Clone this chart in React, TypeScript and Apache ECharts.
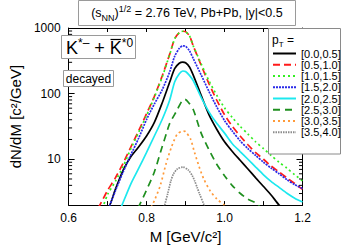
import React, { useEffect, useRef } from 'react';
import * as echarts from 'echarts';

const FONT = '"Liberation Sans", Arial, sans-serif';

const seriesNames = ['[0.0,0.5]', '[0.5,1.0]', '[1.0,1.5]', '[1.5,2.0]', '[2.0,2.5]', '[2.5,3.0]', '[3.0,3.5]', '[3.5,4.0]'];
const seriesColors = ['#000000', '#ff1a1a', '#33ee22', '#2a2ae8', '#1de8ee', '#1f8f1f', '#ff9a3a', '#8c8c8c'];

// [0.0,0.5]
const mass0 = [0.703, 0.709, 0.72, 0.74, 0.76, 0.78, 0.80, 0.82, 0.84, 0.8594, 0.872, 0.884, 0.893, 0.90, 0.91, 0.92, 0.94, 0.96, 0.98, 1.00, 1.02, 1.04, 1.06, 1.08, 1.10, 1.12, 1.14, 1.15];
const yield0 = [1.85, 2.23, 3.47, 6.85, 11.0, 15.5, 22.6, 36.4, 71.9, 150, 240, 290, 301, 295, 255, 190, 94.5, 47.7, 28.6, 18.4, 13.1, 9.64, 7.1, 5.2, 3.84, 2.83, 2.0, 1.8];
// [0.5,1.0]
const mass1 = [0.675, 0.68, 0.70, 0.72, 0.74, 0.76, 0.78, 0.80, 0.82, 0.84, 0.8594, 0.872, 0.884, 0.893, 0.90, 0.91, 0.92, 0.94, 0.96, 0.98, 1.00, 1.02, 1.04, 1.06, 1.08, 1.10, 1.12, 1.14, 1.16, 1.18, 1.20];
const yield1 = [1.8, 2.0, 3.35, 5.2, 8.7, 15.5, 27.4, 49.4, 91, 185, 400, 680, 850, 893, 880, 760, 530, 271, 142, 79.6, 47.7, 31.7, 22.6, 16.6, 12.6, 10.0, 7.85, 6.4, 5.2, 4.26, 3.47];
// [1.0,1.5]
const mass2 = [0.685, 0.6897, 0.70, 0.72, 0.74, 0.76, 0.78, 0.80, 0.82, 0.84, 0.8594, 0.872, 0.884, 0.893, 0.90, 0.91, 0.92, 0.94, 0.96, 0.98, 1.00, 1.02, 1.04, 1.06, 1.08, 1.10, 1.12, 1.14, 1.16, 1.18, 1.20];
const yield2 = [1.8, 2.0, 2.9, 4.6, 7.8, 14.6, 25.9, 46.6, 88, 178, 395, 680, 850, 893, 880, 760, 530, 285, 157, 94.5, 60.7, 43.2, 31.7, 24.2, 18.4, 14.5, 11.4, 9.0, 7.3, 5.8, 4.7];
// [1.5,2.0]
const mass3 = [0.70, 0.7055, 0.72, 0.74, 0.76, 0.78, 0.80, 0.82, 0.84, 0.8594, 0.872, 0.884, 0.893, 0.90, 0.91, 0.92, 0.94, 0.96, 0.98, 1.00, 1.02, 1.04, 1.06, 1.08, 1.10, 1.12, 1.14, 1.16, 1.18, 1.20];
const yield3 = [1.8, 2.0, 3.3, 6.4, 11.8, 21.1, 40.3, 69.5, 114, 215, 370, 490, 535, 527, 450, 340, 193, 108, 62.7, 38.9, 26.8, 19.1, 14.5, 11.4, 9.0, 7.3, 6.0, 4.88, 4.11, 3.59];
// [2.0,2.5]
const mass4 = [0.734, 0.737, 0.76, 0.78, 0.80, 0.82, 0.84, 0.8594, 0.872, 0.884, 0.893, 0.90, 0.91, 0.92, 0.94, 0.96, 0.98, 1.00, 1.02, 1.04, 1.06, 1.08, 1.10, 1.12, 1.14, 1.16, 1.18, 1.20];
const yield4 = [1.8, 2.0, 4.26, 7.3, 12.7, 22.6, 40.3, 80, 150, 200, 221, 217, 190, 157, 88, 52.8, 35.2, 25, 17.2, 13.1, 10, 7.6, 5.8, 4.56, 3.72, 3.03, 2.55, 2.23];
// [2.5,3.0]
const mass5 = [0.778, 0.7818, 0.80, 0.82, 0.84, 0.852, 0.8594, 0.8788, 0.89, 0.8982, 0.907, 0.92, 0.94, 0.96, 0.98, 1.00, 1.02, 1.04, 1.06, 1.08, 1.09];
const yield5 = [1.8, 2.0, 3.4, 6.4, 15.5, 25.9, 35.2, 56.7, 76, 82, 74, 56.7, 25, 14, 8.4, 5.6, 3.97, 3.03, 2.47, 2.16, 1.9];
// [3.0,3.5]
const mass6 = [0.812, 0.8145, 0.8206, 0.8352, 0.8497, 0.8642, 0.8788, 0.8945, 0.90, 0.9127, 0.9224, 0.9345, 0.9467, 0.9636, 0.9806, 1.0, 1.005];
const yield6 = [1.85, 2.0, 2.38, 3.98, 8.4, 15.5, 24.2, 26.8, 26.3, 20.4, 13.1, 7.8, 5.0, 3.26, 2.47, 2.0, 1.9];
// [3.5,4.0]
const mass7 = [0.845, 0.8465, 0.8545, 0.8625, 0.8691, 0.8788, 0.8933, 0.9072, 0.9176, 0.9232, 0.9297, 0.9353, 0.9474, 0.949];
const yield7 = [1.85, 2.0, 3.03, 4.71, 5.98, 7.1, 7.6, 6.85, 5.58, 4.71, 3.72, 3.03, 2.0, 1.85];

const massList = [mass0, mass1, mass2, mass3, mass4, mass5, mass6, mass7];
const yieldList = [yield0, yield1, yield2, yield3, yield4, yield5, yield6, yield7];
const dashTypes: any[] = ['solid', [7, 4], [2, 3], [2, 1], 'solid', [7, 5], [2, 3], [1.5, 1]];

const xMin = 0.6;
const xMax = 1.2;
const yMin = 2;
const yMax = 1000;
const minorTicks = [3, 4, 5, 6, 7, 8, 9, 20, 30, 40, 50, 60, 70, 80, 90, 200, 300, 400, 500, 600, 700, 800, 900];

export default function App() {
  const ref = useRef<HTMLDivElement>(null);
  useEffect(() => {
    const chart = echarts.init(ref.current!, null, { renderer: 'svg' });
    const axisCommon = {
      axisLine: { show: true, lineStyle: { color: '#000', width: 1 } },
      splitLine: { show: false },
    };
    const lineSeries = seriesNames.map((name, i) => ({
      name,
      type: 'line',
      xAxisIndex: 0,
      yAxisIndex: 0,
      data: massList[i].map((m, j) => [m, yieldList[i][j]]),
      symbol: 'none',
      showSymbol: false,
      smooth: 0.25,
      clip: true,
      lineStyle: { color: seriesColors[i], width: 1.7, type: dashTypes[i] },
      itemStyle: { color: seriesColors[i] },
      z: 3,
    }));
    const option: any = {
      animation: false,
      textStyle: { fontFamily: FONT },
      grid: { left: 55, top: 28, right: 38.5, bottom: 39 },
      xAxis: [
        {
          type: 'value', min: xMin, max: xMax, interval: 0.1, position: 'bottom',
          ...axisCommon,
          axisTick: { show: true, inside: true, length: 4, lineStyle: { color: '#000' } },
          axisLabel: {
            fontSize: 12, color: '#000', margin: 7, fontFamily: FONT,
            formatter: (v: number) => { const k = Math.round(v * 10); return k % 2 === 0 ? (k / 10).toFixed(1) : ''; },
          },
          name: 'M [GeV/c²]', nameLocation: 'middle', nameGap: 21,
          nameTextStyle: { fontSize: 15, color: '#000', fontFamily: FONT },
        },
        {
          type: 'value', min: xMin, max: xMax, interval: 0.1, position: 'top',
          ...axisCommon,
          axisTick: { show: true, inside: true, length: 4, lineStyle: { color: '#000' } },
          axisLabel: { show: false },
        },
      ],
      yAxis: [
        {
          type: 'log', logBase: 10, min: yMin, max: yMax, position: 'left',
          ...axisCommon,
          axisTick: { show: true, inside: true, length: 6, lineStyle: { color: '#000' } },
          axisLabel: {
            fontSize: 12, color: '#000', margin: 8, fontFamily: FONT, showMinLabel: false,
            formatter: (v: number) => String(Math.round(v)),
          },
          name: 'dN/dM [c²/GeV]', nameLocation: 'middle', nameGap: 34, nameRotate: 90,
          nameTextStyle: { fontSize: 15, color: '#000', fontFamily: FONT },
        },
        {
          type: 'log', logBase: 10, min: yMin, max: yMax, position: 'right',
          ...axisCommon,
          axisTick: { show: true, inside: true, length: 6, lineStyle: { color: '#000' } },
          axisLabel: { show: false },
        },
      ],
      legend: {
        orient: 'vertical', left: 272, top: 48, padding: 0,
        itemWidth: 23, itemHeight: 12, itemGap: 0.25,
        textStyle: { fontSize: 11, color: '#000', fontFamily: FONT },
        itemStyle: { opacity: 0, borderWidth: 0 },
        lineStyle: { width: 2 },
        data: seriesNames,
        selectedMode: false,
        z: 30,
      },
      series: [
        ...lineSeries,
        {
          type: 'custom',
          xAxisIndex: 0,
          yAxisIndex: 0,
          data: minorTicks.map((v) => [xMin, v]),
          silent: true,
          z: 4,
          renderItem: (params: any, api: any) => {
            const pt = api.coord([api.value(0), api.value(1)]);
            const cs = params.coordSys;
            const y = pt[1];
            const l = cs.x;
            const r = cs.x + cs.width;
            return {
              type: 'group',
              children: [
                { type: 'line', shape: { x1: l, y1: y, x2: l + 3.5, y2: y }, style: { stroke: '#000', lineWidth: 1 } },
                { type: 'line', shape: { x1: r - 3.5, y1: y, x2: r, y2: y }, style: { stroke: '#000', lineWidth: 1 } },
              ],
            };
          },
        },
      ],
      graphic: [
        { type: 'rect', z: 20, shape: { x: 78.5, y: 0.5, width: 217, height: 25 }, style: { fill: '#fff', stroke: '#9a9a9a', lineWidth: 1 } },
        {
          type: 'text', z: 21, x: 187, y: 13,
          style: {
            text: '{n|(s}{sub|NN}{n|)}{sup|1/2}{n| = 2.76 TeV, Pb+Pb, |y|<0.5}',
            align: 'center', verticalAlign: 'middle',
            rich: {
              n: { fontSize: 12.5, fontFamily: FONT, fill: '#000', lineHeight: 18, verticalAlign: 'middle' },
              sub: { fontSize: 9, fontFamily: FONT, fill: '#000', lineHeight: 18, verticalAlign: 'bottom' },
              sup: { fontSize: 9, fontFamily: FONT, fill: '#000', lineHeight: 18, verticalAlign: 'top' },
            },
          },
        },
        { type: 'rect', z: 20, shape: { x: 61.5, y: 35.5, width: 74, height: 23 }, style: { fill: '#fff', stroke: '#9a9a9a', lineWidth: 1 } },
        {
          type: 'text', z: 21, x: 66, y: 47.5,
          style: {
            text: '{k|K}{s|*–}{k| + K}{s|*0}',
            align: 'left', verticalAlign: 'middle',
            rich: {
              k: { fontSize: 18, fontFamily: FONT, fill: '#000', lineHeight: 22, verticalAlign: 'middle' },
              s: { fontSize: 12, fontFamily: FONT, fill: '#000', lineHeight: 22, verticalAlign: 'top' },
            },
          },
        },
        { type: 'line', z: 21, shape: { x1: 110.5, y1: 39.5, x2: 121, y2: 39.5 }, style: { stroke: '#000', lineWidth: 1.2 } },
        { type: 'rect', z: 20, shape: { x: 63.5, y: 70.5, width: 50, height: 16 }, style: { fill: '#fff', stroke: '#9a9a9a', lineWidth: 1 } },
        {
          type: 'text', z: 21, x: 88.5, y: 78.5,
          style: { text: 'decayed', fontSize: 12, fontFamily: FONT, fill: '#000', align: 'center', verticalAlign: 'middle' },
        },
        { type: 'rect', z: 20, shape: { x: 268.5, y: 28.5, width: 72, height: 125.5 }, style: { fill: '#fff', stroke: '#8a8a8a', lineWidth: 1 } },
        {
          type: 'text', z: 21, x: 272, y: 40,
          style: {
            text: '{n|p}{sub|T}{n| =}',
            align: 'left', verticalAlign: 'middle',
            rich: {
              n: { fontSize: 12, fontFamily: FONT, fill: '#000', lineHeight: 16, verticalAlign: 'middle' },
              sub: { fontSize: 8, fontFamily: FONT, fill: '#000', lineHeight: 16, verticalAlign: 'bottom' },
            },
          },
        },
      ],
    };
    chart.setOption(option);
    return () => chart.dispose();
  }, []);
  return <div ref={ref} style={{ position: 'absolute', left: 0, top: 0, width: 341, height: 249 }} />;
}
